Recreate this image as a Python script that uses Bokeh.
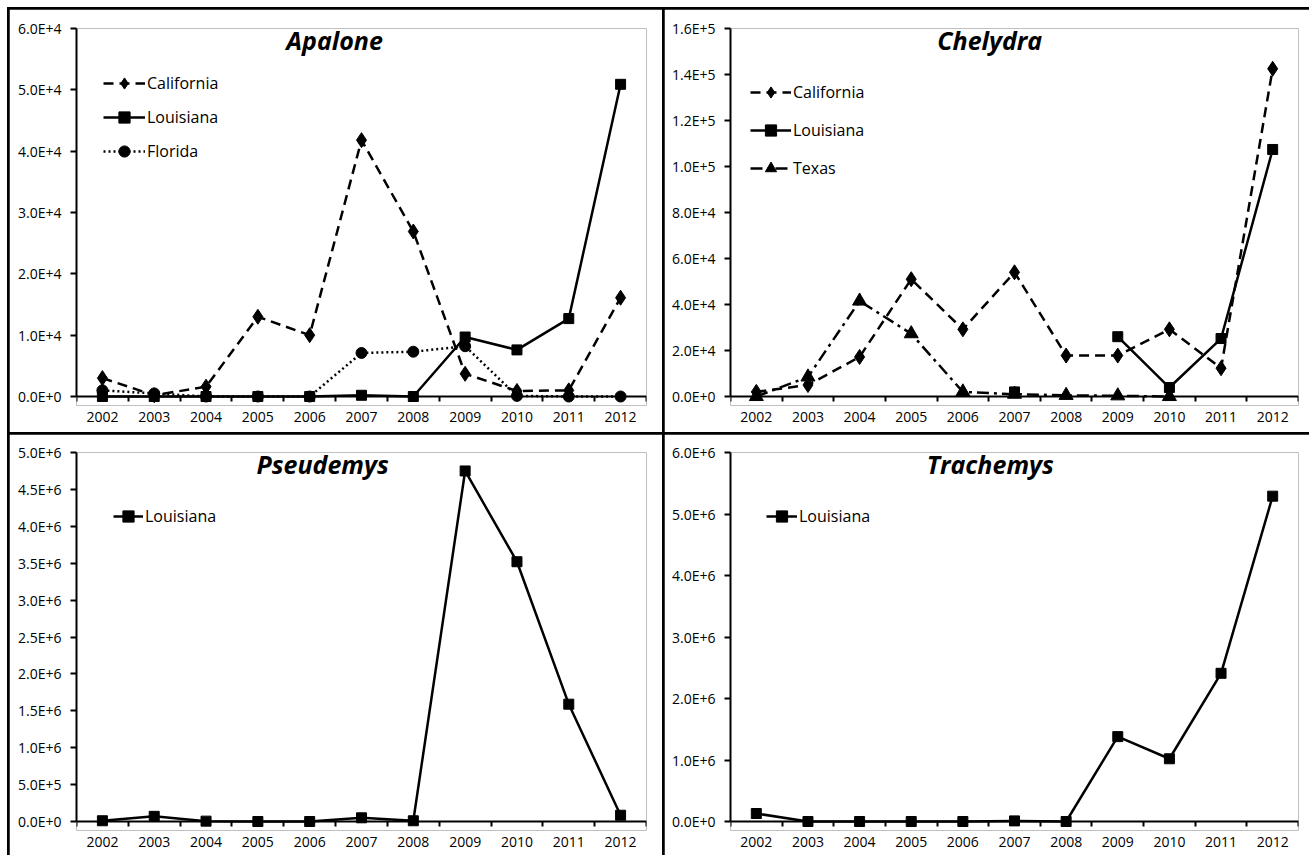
from bokeh.plotting import figure
from bokeh.layouts import gridplot
from bokeh.models import Range1d, FixedTicker, Legend, LegendItem, Label, LinearAxis
from bokeh.embed import file_html
from bokeh.resources import INLINE

nan = float("nan")
years = [2002, 2003, 2004, 2005, 2006, 2007, 2008, 2009, 2010, 2011, 2012]

# Apalone
apalone_california = [3000, 200, 1600, 13000, 10000, 41800, 26900, 3700, 900, 1000, 16100]
apalone_louisiana = [0, 0, 0, 0, 0, 200, 0, 9700, 7600, 12700, 50900]
apalone_florida = [1000, 500, 0, 0, 0, 7100, 7300, 8200, 100, 0, 0]
apalone_yticks = [0, 10000, 20000, 30000, 40000, 50000, 60000]
apalone_ylabels = ["0.0E+0", "1.0E+4", "2.0E+4", "3.0E+4", "4.0E+4", "5.0E+4", "6.0E+4"]

# Chelydra
chelydra_california = [2000, 5000, 17200, 51000, 29200, 54000, 17800, 17800, 29200, 12300, 142500]
chelydra_louisiana = [nan, nan, nan, nan, nan, 2000, nan, 26000, 3900, 25200, 107400]
chelydra_texas = [0, 8500, 41500, 27300, 2000, 1000, 500, 300, 0, nan, nan]
chelydra_yticks = [0, 20000, 40000, 60000, 80000, 100000, 120000, 140000, 160000]
chelydra_ylabels = ["0.0E+0", "2.0E+4", "4.0E+4", "6.0E+4", "8.0E+4", "1.0E+5", "1.2E+5", "1.4E+5", "1.6E+5"]

# Pseudemys
pseudemys_louisiana = [10000, 70000, 5000, 0, 0, 50000, 10000, 4750000, 3520000, 1590000, 85000]
pseudemys_yticks = [0, 500000, 1000000, 1500000, 2000000, 2500000, 3000000, 3500000, 4000000, 4500000, 5000000]
pseudemys_ylabels = ["0.0E+0", "5.0E+5", "1.0E+6", "1.5E+6", "2.0E+6", "2.5E+6", "3.0E+6", "3.5E+6", "4.0E+6", "4.5E+6", "5.0E+6"]

# Trachemys
trachemys_louisiana = [130000, 0, 0, 0, 0, 10000, 0, 1380000, 1020000, 2410000, 5290000]
trachemys_yticks = [0, 1000000, 2000000, 3000000, 4000000, 5000000, 6000000]
trachemys_ylabels = ["0.0E+0", "1.0E+6", "2.0E+6", "3.0E+6", "4.0E+6", "5.0E+6", "6.0E+6"]

FONT = "Open Sans"
STYLE = {
    "California": dict(marker="diamond", dash="10 6", size=15),
    "Louisiana": dict(marker="square", dash="solid", size=10),
    "Florida": dict(marker="circle", dash="2 3", size=11),
    "Texas": dict(marker="triangle", dash="12 5 3 5", size=14),
}
EXT = 9  # px of frame kept below the zero line so markers at zero are not cut


def panel(title, title_x, series, yticks, ylabels, width, height, mb, zero_h, leg):
    ymax = yticks[-1]
    ystart = -ymax * EXT / zero_h
    p = figure(width=width, height=height, output_backend="svg", toolbar_location=None,
               x_range=Range1d(years[0] - 0.5, years[-1] + 0.5), y_range=Range1d(ystart, ymax),
               min_border_left=mb[0], min_border_right=mb[1], min_border_top=mb[2],
               min_border_bottom=mb[3])
    p.xgrid.visible = False
    p.ygrid.visible = False
    p.outline_line_color = None
    p.background_fill_color = "white"
    p.border_fill_color = "white"

    items = []
    for name, vals in series:
        st = STYLE[name]
        lr = p.line(years, vals, line_color="black", line_width=2.5, line_dash=st["dash"])
        sr = p.scatter(years, vals, marker=st["marker"], size=st["size"],
                       fill_color="black", line_color="black")
        items.append(LegendItem(label=name, renderers=[lr, sr]))

    legend = Legend(items=items, location=(leg[0], leg[1]), padding=0, margin=0,
                    spacing=leg[3], glyph_width=leg[2], glyph_height=28, label_height=28,
                    label_standoff=2, border_line_color=None, background_fill_alpha=0,
                    label_text_font=FONT, label_text_font_size="16px",
                    label_text_color="black")
    p.add_layout(legend)

    p.add_layout(Label(x=title_x, y=ymax * (1 - 0.032), text=title, text_font=FONT,
                       text_font_style="bold italic", text_font_size="25px",
                       text_align="center", text_baseline="alphabetic", text_color="black"))

    # axis line at zero with boundary ticks
    xa = p.xaxis[0]
    xa.fixed_location = 0
    xa.ticker = FixedTicker(ticks=years, minor_ticks=[y - 0.5 for y in years] + [years[-1] + 0.5])
    xa.major_tick_out = 0
    xa.major_tick_in = 0
    xa.minor_tick_out = 5
    xa.minor_tick_in = 0
    xa.minor_tick_line_width = 2
    xa.minor_tick_line_color = "black"
    xa.axis_line_width = 2
    xa.axis_line_color = "black"
    xa.major_label_text_color = None

    # year labels
    lab = LinearAxis(ticker=FixedTicker(ticks=years, minor_ticks=[]),
                     major_label_overrides={y: str(y) for y in years},
                     axis_line_color=None, major_tick_line_color=None,
                     minor_tick_line_color=None, major_tick_out=0, major_tick_in=0,
                     minor_tick_out=0, minor_tick_in=0, major_label_standoff=6,
                     major_label_text_font=FONT, major_label_text_font_size="14px",
                     major_label_text_color="black")
    p.add_layout(lab, "below")

    ya = p.yaxis[0]
    ya.bounds = (0, ymax)
    ya.ticker = FixedTicker(ticks=yticks, minor_ticks=[])
    ya.major_label_overrides = dict(zip(yticks, ylabels))
    ya.major_tick_out = 6
    ya.major_tick_in = 0
    ya.major_tick_line_width = 2
    ya.major_tick_line_color = "black"
    ya.minor_tick_out = 0
    ya.minor_tick_in = 0
    ya.axis_line_width = 2
    ya.axis_line_color = "black"
    ya.major_label_standoff = 9
    ya.major_label_text_font = FONT
    ya.major_label_text_font_size = "14px"
    ya.major_label_text_color = "black"
    return p


p1 = panel("Apalone", 2006.48,
           [("California", apalone_california), ("Louisiana", apalone_louisiana),
            ("Florida", apalone_florida)],
           apalone_yticks, apalone_ylabels, 653, 423, (67, 16, 19, 27), 368, (27, 240, 42, 6))
p2 = panel("Chelydra", 2006.52,
           [("California", chelydra_california), ("Louisiana", chelydra_louisiana),
            ("Texas", chelydra_texas)],
           chelydra_yticks, chelydra_ylabels, 645, 423, (66, 11, 19, 27), 368, (20, 223, 41, 10))
p3 = panel("Pseudemys", 2006.25, [("Louisiana", pseudemys_louisiana)],
           pseudemys_yticks, pseudemys_ylabels, 653, 421, (67, 16, 18, 25), 369, (37, 300, 30, 0))
p4 = panel("Trachemys", 2006.53, [("Louisiana", trachemys_louisiana)],
           trachemys_yticks, trachemys_ylabels, 645, 421, (66, 11, 18, 25), 369, (36, 300, 31, 0))

grid = gridplot([[p1, p2], [p3, p4]], toolbar_location=None)
grid.spacing = 2
grid.margin = (7, 0, 0, 7)
grid.styles = {"background-color": "black", "padding-left": "2px", "padding-top": "2px"}

open("out.html", "w").write(file_html(grid, INLINE))
